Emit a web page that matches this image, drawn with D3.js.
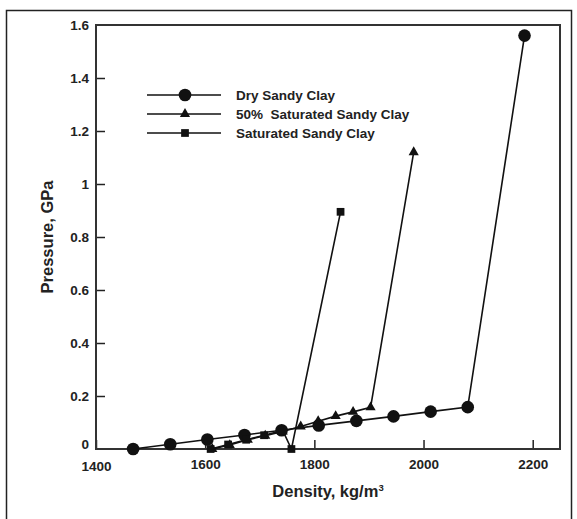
<!DOCTYPE html>
<html>
<head>
<meta charset="utf-8">
<script src="https://cdn.jsdelivr.net/npm/d3@7"></script>
<style>
  body { margin: 0; background: #fff; }
  text { font-family: "Liberation Sans", Arial, sans-serif; font-weight: bold; fill: #222; white-space: pre; }
</style>
</head>
<body>
<div id="chart"></div>
<script>
// values
const dryDensity = [1468, 1536, 1604, 1672, 1740, 1808, 1877, 1945, 2013, 2081, 2185];
const dryPressure = [0, 0.018, 0.036, 0.053, 0.071, 0.089, 0.106, 0.123, 0.141, 0.158, 1.56];

const halfDensity = [1613, 1645, 1678, 1710, 1742, 1775, 1807, 1839, 1871, 1903, 1982];
const halfPressure = [0, 0.015, 0.035, 0.05, 0.066, 0.085, 0.105, 0.124, 0.14, 0.157, 1.12];

const satDensity = [1610, 1642, 1675, 1708, 1742, 1758, 1848];
const satPressure = [0, 0.017, 0.035, 0.052, 0.07, 0, 0.895];

const xTicks = [1400, 1600, 1800, 2000, 2200];
const yTicks = [0, 0.2, 0.4, 0.6, 0.8, 1, 1.2, 1.4, 1.6];
const seriesNames = ["Dry Sandy Clay", "50%  Saturated Sandy Clay", "Saturated Sandy Clay"];

const W = 577, H = 519;
const LEFT = 96, RIGHT = 560, TOP = 25, BOTTOM = 449;

const svg = d3.select("#chart").append("svg")
    .attr("width", W)
    .attr("height", H);

// outer frame of the figure
svg.append("rect")
    .attr("x", 6.5).attr("y", 10.5)
    .attr("width", 565).attr("height", 530)
    .attr("fill", "none")
    .attr("stroke", "#222")
    .attr("stroke-width", 1.5);

const x = d3.scaleLinear().domain([1400, 2250]).range([LEFT, RIGHT]);
const y = d3.scaleLinear().domain([0, 1.6]).range([BOTTOM, TOP]);

// axes with inward ticks
const xAxis = svg.append("g")
    .attr("transform", "translate(0," + BOTTOM + ")")
    .call(d3.axisBottom(x).tickValues(xTicks).tickFormat(d3.format("d")).tickSizeInner(-9).tickSizeOuter(0).tickPadding(6));
const yAxis = svg.append("g")
    .attr("transform", "translate(" + LEFT + ",0)")
    .call(d3.axisLeft(y).tickValues(yTicks).tickFormat(d3.format("")).tickSizeInner(-9).tickSizeOuter(0).tickPadding(7));

[xAxis, yAxis].forEach(function (a) {
    a.select(".domain").remove();
    a.selectAll("line").attr("stroke", "#222").attr("stroke-width", 1.5);
    a.selectAll("text").style("font-size", "13.5px").attr("fill", "#222");
});
xAxis.selectAll("text").attr("dy", "1.0em");
yAxis.selectAll("text").filter(function (d) { return d === 0; }).attr("dy", "-0.05em");
xAxis.selectAll("text").filter(function (d) { return d === 1400; }).attr("dy", "1.15em");
yAxis.selectAll("g.tick").filter(function (d) { return d === 0 || d === 1.6; }).select("line").remove();

// plot box
svg.append("rect")
    .attr("x", LEFT).attr("y", TOP)
    .attr("width", RIGHT - LEFT).attr("height", BOTTOM - TOP)
    .attr("fill", "none")
    .attr("stroke", "#333")
    .attr("stroke-width", 2);

const line = d3.line()
    .x(function (d) { return x(d[0]); })
    .y(function (d) { return y(d[1]); });

const series = [
    { pts: d3.zip(dryDensity, dryPressure), sym: d3.symbolCircle, size: 125 },
    { pts: d3.zip(halfDensity, halfPressure), sym: d3.symbolTriangle, size: 45 },
    { pts: d3.zip(satDensity, satPressure), sym: d3.symbolSquare, size: 60 }
];

series.forEach(function (s) {
    svg.append("path")
        .datum(s.pts)
        .attr("d", line)
        .attr("fill", "none")
        .attr("stroke", "#111")
        .attr("stroke-width", 1.6);
});
series.forEach(function (s) {
    svg.append("g")
        .selectAll("path")
        .data(s.pts)
        .enter().append("path")
        .attr("transform", function (d) { return "translate(" + x(d[0]) + "," + y(d[1]) + ")"; })
        .attr("d", d3.symbol().type(s.sym).size(s.size))
        .attr("fill", "#111");
});

// legend
const legendY = [95, 114, 133];
const legend = svg.append("g");
series.forEach(function (s, i) {
    legend.append("line")
        .attr("x1", 147).attr("x2", 221)
        .attr("y1", legendY[i]).attr("y2", legendY[i])
        .attr("stroke", "#111").attr("stroke-width", 1.6);
    legend.append("path")
        .attr("transform", "translate(185," + legendY[i] + ")")
        .attr("d", d3.symbol().type(s.sym).size(s.size))
        .attr("fill", "#111");
    legend.append("text")
        .attr("x", 236).attr("y", legendY[i] + 5)
        .style("font-size", "13.5px")
        .text(seriesNames[i]);
});

// axis titles
const xTitle = svg.append("text")
    .attr("x", 328).attr("y", 497)
    .attr("text-anchor", "middle")
    .style("font-size", "16.5px");
xTitle.append("tspan").text("Density, kg/m");
xTitle.append("tspan").attr("dy", "-6").style("font-size", "9.5px").text("3");

svg.append("text")
    .attr("transform", "translate(53,237)rotate(-90)")
    .attr("text-anchor", "middle")
    .style("font-size", "16.5px")
    .text("Pressure, GPa");
</script>
</body>
</html>
